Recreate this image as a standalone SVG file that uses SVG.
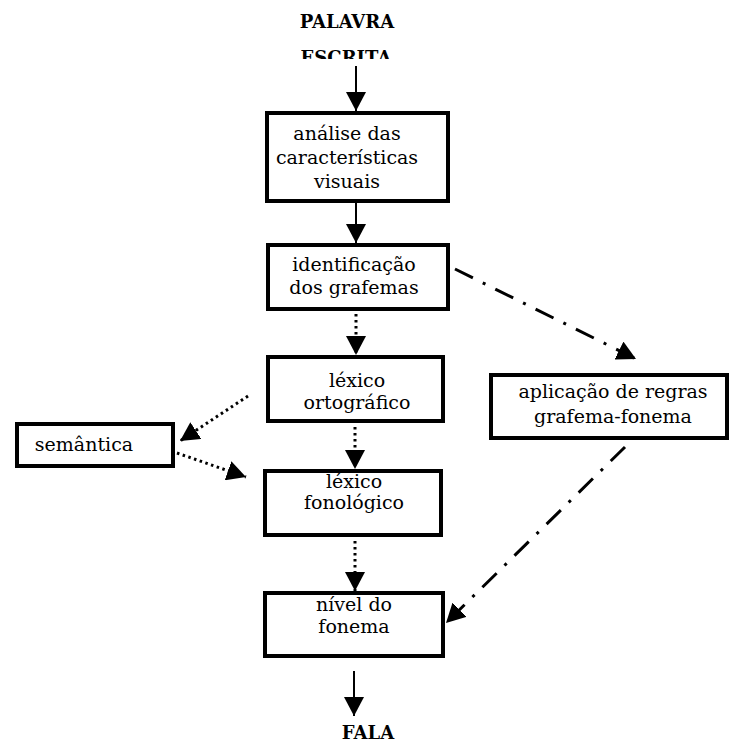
<svg xmlns="http://www.w3.org/2000/svg" width="729" height="744" viewBox="0 0 729 744">
<defs>
<style>
.box{fill:#fff;stroke:#000;stroke-width:4}
.t{font-family:"DejaVu Serif","Liberation Serif",serif;font-size:19px;fill:#000;text-anchor:middle}
.b{font-family:"DejaVu Serif","Liberation Serif",serif;font-size:18px;font-weight:bold;fill:#000;text-anchor:middle}
.solid{stroke:#000;stroke-width:2;fill:none}
.dot{stroke:#000;stroke-width:3;fill:none;stroke-dasharray:2.5 3.5}
.dd{stroke:#000;stroke-width:3;fill:none;stroke-dasharray:20 11 3 11}
</style>
<marker id="ah" viewBox="0 0 19 20" refX="19" refY="10" markerWidth="19" markerHeight="20" markerUnits="userSpaceOnUse" orient="auto">
<path d="M0,0 L19,10 L0,20 z" fill="#000"/>
</marker>
<clipPath id="clipTitle"><rect x="0" y="0" width="729" height="59"/></clipPath>
</defs>
<rect width="729" height="744" fill="#fff"/>

<g id="palavra-escrita" clip-path="url(#clipTitle)">
<text class="b" x="347" y="28">PALAVRA</text>
<text class="b" x="346" y="64">ESCRITA</text>
</g>

<g id="analise">
<rect class="box" x="267" y="113" width="181" height="88"/>
<text class="t" x="347" y="140">análise das</text>
<text class="t" x="347" y="164">características</text>
<text class="t" x="347" y="188">visuais</text>
</g>

<g id="identificacao">
<rect class="box" x="268" y="245" width="180" height="64"/>
<text class="t" x="354" y="271">identificação</text>
<text class="t" x="354" y="294">dos grafemas</text>
</g>

<g id="lexico-ortografico">
<rect class="box" x="268" y="357" width="175" height="64"/>
<text class="t" x="357" y="387">léxico</text>
<text class="t" x="357" y="409">ortográfico</text>
</g>

<g id="semantica">
<rect class="box" x="17" y="424" width="156" height="42"/>
<text class="t" x="84" y="451">semântica</text>
</g>

<g id="lexico-fonologico">
<rect class="box" x="265" y="471" width="176" height="64"/>
<text class="t" x="354" y="488">léxico</text>
<text class="t" x="354" y="509">fonológico</text>
</g>

<g id="nivel-fonema">
<rect class="box" x="265" y="593" width="178" height="63"/>
<text class="t" x="354" y="611">nível do</text>
<text class="t" x="354" y="633">fonema</text>
</g>

<g id="regras">
<rect class="box" x="491" y="375" width="236" height="63"/>
<text class="t" x="613" y="398">aplicação de regras</text>
<text class="t" x="613" y="423">grafema-fonema</text>
</g>

<g id="fala">
<text class="b" x="368" y="739">FALA</text>
</g>

<g id="connectors">
<line class="solid" x1="356" y1="66" x2="356" y2="111" marker-end="url(#ah)"/>
<line class="solid" x1="356" y1="203" x2="356" y2="243" marker-end="url(#ah)"/>
<line class="dot" x1="356" y1="314" x2="356" y2="355" marker-end="url(#ah)"/>
<line class="dot" x1="355" y1="427" x2="355" y2="469" marker-end="url(#ah)"/>
<line class="dot" x1="355" y1="541" x2="355" y2="591" marker-end="url(#ah)"/>
<line class="solid" x1="354" y1="671" x2="354" y2="716" marker-end="url(#ah)"/>
<line class="dot" x1="248" y1="396" x2="180" y2="441" marker-end="url(#ah)"/>
<line class="dot" x1="177" y1="453" x2="246" y2="477" marker-end="url(#ah)"/>
<line class="dd" x1="455" y1="269" x2="636" y2="359" marker-end="url(#ah)"/>
<line class="dd" x1="625" y1="447" x2="446" y2="623" marker-end="url(#ah)"/>
</g>
</svg>
